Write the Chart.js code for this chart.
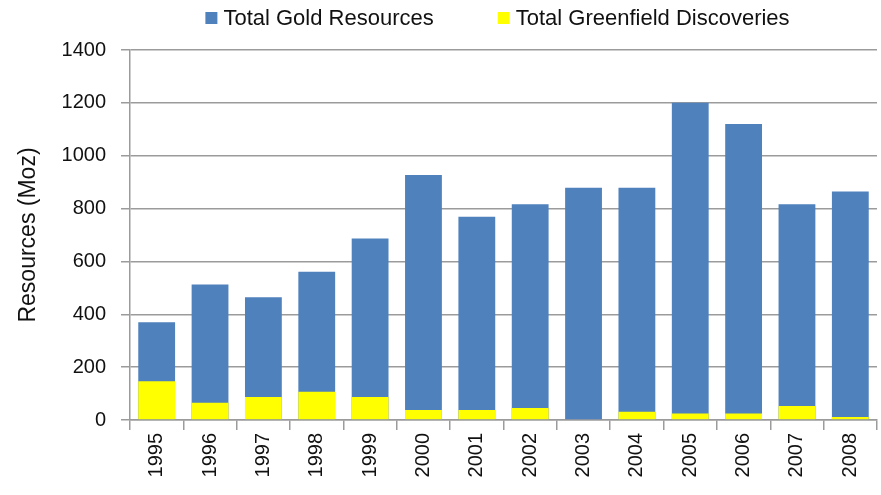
<!DOCTYPE html>
<html>
<head>
<meta charset="utf-8">
<script src="https://cdn.jsdelivr.net/npm/chart.js@4.4.1/dist/chart.umd.min.js"></script>
<style>
  html, body { margin: 0; padding: 0; background: #fff; }
  #wrap { position: relative; width: 881px; height: 495px; }
</style>
</head>
<body>
<div id="wrap"><canvas id="goldChart"></canvas></div>
<script>
// Data (Moz)
var years = ['1995', '1996', '1997', '1998', '1999', '2000', '2001',
             '2002', '2003', '2004', '2005', '2006', '2007', '2008'];
var totalGold = [370, 513, 464, 561, 687, 927, 769, 816, 879, 879, 1200, 1120, 816, 865];
var greenfield = [147, 65, 87, 107, 87, 38, 38, 45, 0, 31, 25, 25, 53, 11];
var yTicks = [0, 200, 400, 600, 800, 1000, 1200, 1400];

var FONT = "'Liberation Sans', Arial, sans-serif";
var GRID = '#9b9b9b';

// Excel-like legend: square swatch + label, centred over the plot
var topLegend = {
  id: 'topLegend',
  afterDraw: function(chart) {
    var ctx = chart.ctx;
    var area = chart.chartArea;
    var sets = chart.data.datasets;
    var box = 12, gap = 6, spacing = 64;
    ctx.save();
    ctx.font = '22px ' + FONT;
    var widths = sets.map(function(ds) { return box + gap + ctx.measureText(ds.label).width; });
    var total = widths.reduce(function(a, b) { return a + b; }, 0) + spacing * (sets.length - 1);
    var x = (area.left + area.right) / 2 - 6 - total / 2;
    var y = 18;
    sets.forEach(function(ds, i) {
      ctx.fillStyle = ds.backgroundColor;
      ctx.fillRect(x, y - box / 2, box, box);
      ctx.fillStyle = '#111';
      ctx.textBaseline = 'middle';
      ctx.textAlign = 'left';
      ctx.fillText(ds.label, x + box + gap, y + 1);
      x += widths[i] + spacing;
    });
    ctx.restore();
  }
};

new Chart(document.getElementById('goldChart'), {
  type: 'bar',
  data: {
    labels: years,
    datasets: [
      {
        label: 'Total Gold Resources',
        data: totalGold,
        backgroundColor: '#4f81bd',
        borderWidth: 0,
        order: 2
      },
      {
        label: 'Total Greenfield Discoveries',
        data: greenfield,
        backgroundColor: '#ffff00',
        borderWidth: 0,
        order: 1
      }
    ]
  },
  options: {
    responsive: true,
    maintainAspectRatio: false,
    animation: false,
    datasets: { bar: { grouped: false, barPercentage: 0.69, categoryPercentage: 1 } },
    layout: { padding: { top: 50, right: 4, left: 0, bottom: 0 } },
    plugins: {
      legend: { display: false },
      tooltip: { enabled: false }
    },
    scales: {
      x: {
        grid: { offset: true, drawOnChartArea: false, color: GRID, lineWidth: 1.5, tickLength: 10 },
        border: { color: GRID, width: 1.5 },
        ticks: {
          color: '#111', font: { family: FONT, size: 20 },
          maxRotation: 90, minRotation: 90, padding: 3
        },
        afterFit: function(scale) { scale.height = 75; }
      },
      y: {
        min: 0,
        max: 1400,
        afterBuildTicks: function(scale) {
          scale.ticks = yTicks.map(function(v) { return { value: v }; });
        },
        grid: { color: GRID, lineWidth: 1.5, tickLength: 9 },
        border: { color: GRID, width: 1.5 },
        ticks: {
          color: '#111', font: { family: FONT, size: 20 }, padding: 15,
          callback: function(v) { return String(v); }
        },
        title: {
          display: true,
          text: 'Resources (Moz)',
          color: '#111',
          font: { family: FONT, size: 23 },
          padding: { top: 15, bottom: 0 }
        },
        afterFit: function(scale) { scale.width = 130; }
      }
    }
  },
  plugins: [topLegend]
});
</script>
</body>
</html>
